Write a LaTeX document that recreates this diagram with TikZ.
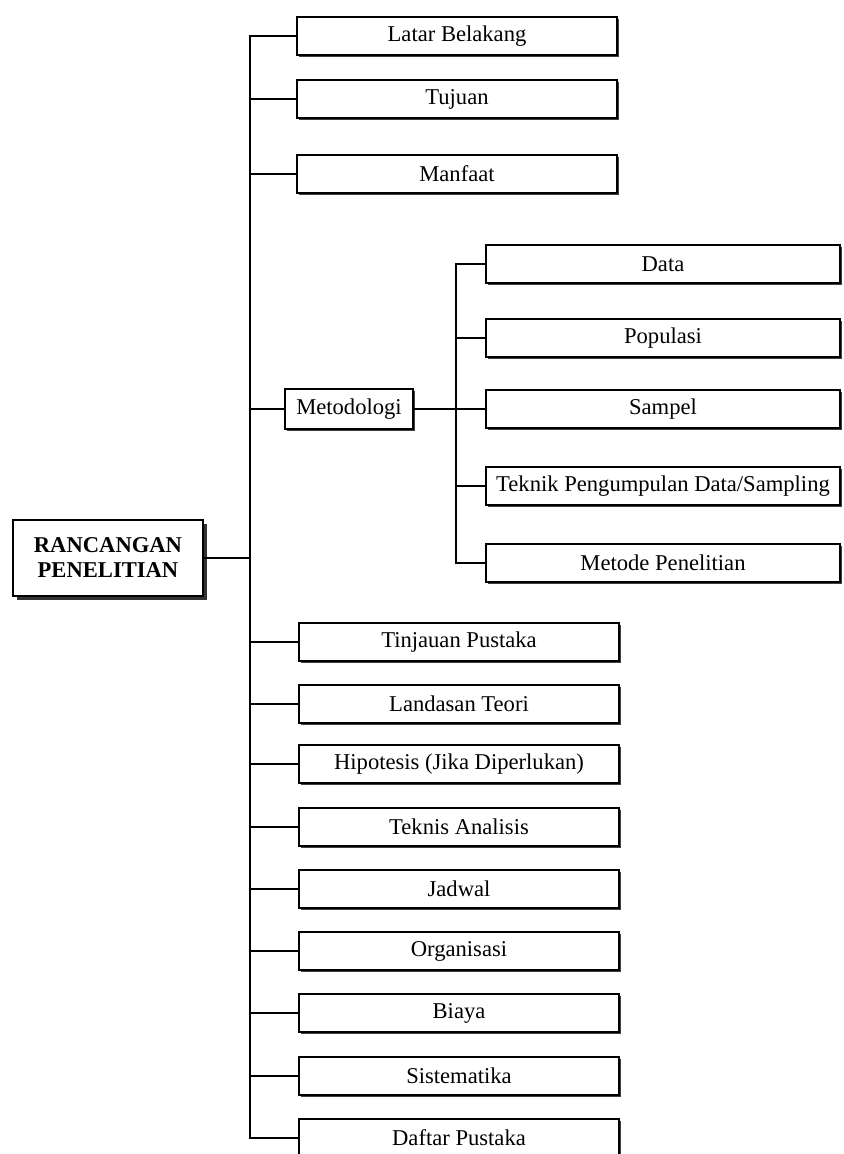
\documentclass[tikz,border=0pt]{standalone}
\usepackage{fontspec}
\setmainfont{Liberation Serif}
\usetikzlibrary{positioning,shadows}

\begin{document}
\begin{tikzpicture}[
    x=0.5pt, y=-0.5pt,
    every node/.style={font=\fontsize{11.3}{13}\selectfont},
    box/.style={draw,fill=white,line width=0.8pt,inner sep=0pt,align=center},
    shade1/.style={drop shadow={shadow xshift=1pt,shadow yshift=-1pt,fill=black!75,opacity=1}},
    topic/.style={box,shade1,minimum width=160pt,minimum height=19pt},
    sub/.style={box,shade1,minimum width=177pt,minimum height=19pt},
    mid/.style={box,shade1,minimum width=64pt,minimum height=20pt},
    root/.style={box,minimum width=95pt,minimum height=38pt,font=\bfseries\fontsize{11.3}{12.5}\selectfont,
        drop shadow={shadow xshift=1.8pt,shadow yshift=-1.8pt,fill=black!80,opacity=1}},
    line width=0.8pt,
]
    \useasboundingbox (0,0) rectangle (844,1154);

    \node[root] (rancangan) at (108,558) {RANCANGAN\\PENELITIAN};

    \node[topic] (latar) at (457,36) {Latar Belakang};
    \node[topic] (tujuan) at (457,99) {Tujuan};
    \node[topic] (manfaat) at (457,174) {Manfaat};

    \node[mid] (metodologi) at (349,409) {Metodologi};
    \node[sub] (data) at (663,264) {Data};
    \node[sub] (populasi) at (663,338) {Populasi};
    \node[sub] (sampel) at (663,409) {Sampel};
    \node[sub] (teknik) at (663,486) {Teknik Pengumpulan Data/Sampling};
    \node[sub] (metode) at (663,563) {Metode Penelitian};

    \node[topic] (tinjauan) at (459,642) {Tinjauan Pustaka};
    \node[topic] (landasan) at (459,704) {Landasan Teori};
    \node[topic] (hipotesis) at (459,764) {Hipotesis (Jika Diperlukan)};
    \node[topic] (teknis) at (459,827) {Teknis Analisis};
    \node[topic] (jadwal) at (459,889) {Jadwal};
    \node[topic] (organisasi) at (459,951) {Organisasi};
    \node[topic] (biaya) at (459,1013) {Biaya};
    \node[topic] (sistematika) at (459,1076) {Sistematika};
    \node[topic] (daftar) at (459,1138) {Daftar Pustaka};

    \coordinate (trunk) at (250,0);
    \coordinate (subtrunk) at (456,0);

    % main trunk
    \draw (latar.west) -- (latar.west -| trunk) -- (daftar.west -| trunk) -- (daftar.west);
    \draw (rancangan.east) -- (rancangan.east -| trunk);
    \draw (tujuan.west) -- (tujuan.west -| trunk);
    \draw (manfaat.west) -- (manfaat.west -| trunk);
    \draw (metodologi.west) -- (metodologi.west -| trunk);
    \draw (tinjauan.west) -- (tinjauan.west -| trunk);
    \draw (landasan.west) -- (landasan.west -| trunk);
    \draw (hipotesis.west) -- (hipotesis.west -| trunk);
    \draw (teknis.west) -- (teknis.west -| trunk);
    \draw (jadwal.west) -- (jadwal.west -| trunk);
    \draw (organisasi.west) -- (organisasi.west -| trunk);
    \draw (biaya.west) -- (biaya.west -| trunk);
    \draw (sistematika.west) -- (sistematika.west -| trunk);

    % metodologi branch
    \draw (data.west) -- (data.west -| subtrunk) -- (metode.west -| subtrunk) -- (metode.west);
    \draw (metodologi.east) -- (sampel.west);
    \draw (populasi.west) -- (populasi.west -| subtrunk);
    \draw (teknik.west) -- (teknik.west -| subtrunk);
\end{tikzpicture}
\end{document}
